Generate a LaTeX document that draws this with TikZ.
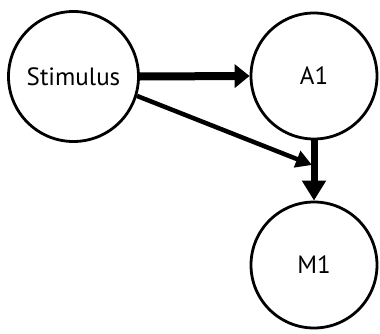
\documentclass[tikz,border=0pt]{standalone}
\usepackage{fontspec}
\setmainfont{PT Sans}
\usetikzlibrary{arrows.meta}
\begin{document}
\begin{tikzpicture}[x=1pt,y=1pt,
  unit/.style={circle,draw=black,line width=2.8pt,inner sep=0pt,font=\fontsize{25}{28}\selectfont},
  bigarrow/.style={line width=8pt,-{Triangle[length=15pt,width=23pt]}},
  vertarrow/.style={line width=7pt,-{Triangle[length=20pt,width=23pt]}},
  diagarrow/.style={line width=4.5pt,-{Triangle[length=16pt,width=17pt]}}]
\useasboundingbox (0,0) rectangle (380,333);
\node[unit,minimum size=130pt] (stim) at (73.5,256.5) {Stimulus};
\node[unit,minimum size=126pt] (a1) at (314,257) {A1};
\node[unit,minimum size=126pt] (m1) at (314,68) {M1};
\coordinate (d) at (312,168);
\draw[bigarrow] (stim.east) -- (a1.west);
\draw[vertarrow] (a1.south) -- (m1.north);
\draw[diagarrow] (stim.-17) -- (d);
\end{tikzpicture}
\end{document}
